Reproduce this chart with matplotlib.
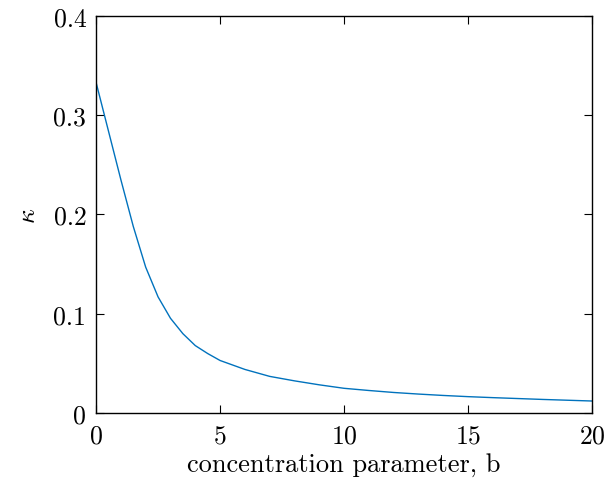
import numpy as np
import matplotlib.pyplot as plt
from matplotlib.ticker import FormatStrFormatter

plt.rcParams['font.family'] = 'cmr10'
plt.rcParams['mathtext.fontset'] = 'cm'
plt.rcParams['axes.formatter.use_mathtext'] = True

# kappa against the concentration parameter
b = np.array([0, 0.5, 1, 1.5, 2, 2.5, 3, 3.5, 4, 4.5, 5, 6, 7, 8, 9, 10,
              11, 12, 13, 14, 15, 16, 17, 18, 19, 20])
kappa = np.array([0.333, 0.284, 0.235, 0.188, 0.147, 0.117, 0.0955, 0.080,
                  0.068, 0.060, 0.053, 0.044, 0.037, 0.0325, 0.0285, 0.025,
                  0.0228, 0.0208, 0.0192, 0.0178, 0.0166, 0.0156, 0.0147,
                  0.0138, 0.013, 0.0122])

fig = plt.figure(figsize=(6.08, 4.81), dpi=100)
ax = fig.add_axes([0.158, 0.139, 0.816, 0.826])
ax.plot(b, kappa, color='#0072BD', lw=1.0)

ax.set_xlim(0, 20)
ax.set_ylim(0, 0.4)
ax.set_xticks([0, 5, 10, 15, 20])
ax.set_yticks([0, 0.1, 0.2, 0.3, 0.4])
ax.yaxis.set_major_formatter(FormatStrFormatter('%g'))
ax.tick_params(direction='in', top=True, right=True, length=6, width=0.8,
               labelsize=18.5)
ax.tick_params(axis='x', pad=8)
ax.tick_params(axis='y', pad=7)
for s in ax.spines.values():
    s.set_linewidth(1.0)

ax.set_xlabel('concentration parameter, b', fontsize=19, labelpad=3)
ax.set_ylabel(r'$\kappa$', fontsize=18.5, labelpad=10)

fig.savefig('out.png', dpi=100)
